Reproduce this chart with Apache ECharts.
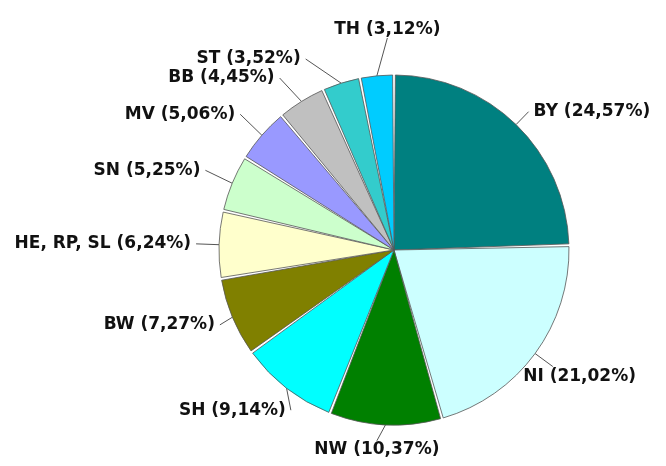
<!DOCTYPE html>
<html>
<head>
<meta charset="utf-8">
<script src="https://cdn.jsdelivr.net/npm/echarts@6/dist/echarts.min.js"></script>
<style>
  html, body { margin: 0; padding: 0; background: #ffffff; }
  #chart { width: 666px; height: 466px; }
</style>
</head>
<body>
<div id="chart"></div>
<script>
// Anteile in Prozent, im Uhrzeigersinn ab 12 Uhr
const names = ['BY', 'NI', 'NW', 'SH', 'BW', 'HE, RP, SL', 'SN', 'MV', 'BB', 'ST', 'TH'];
const shares = [24.57, 21.02, 10.37, 9.14, 7.27, 6.24, 5.25, 5.06, 4.45, 3.52, 3.12];
const colors = ['#008080', '#ccffff', '#008000', '#00ffff', '#808000', '#ffffcc',
  '#ccffcc', '#9999ff', '#c0c0c0', '#33cccc', '#00ccff'];
// Länge der Hinweislinien je Stück
const lineLen = [18, 22, 14, 28, 20, 28, 34, 32, 30, 42, 36];

const W = 666;
const CX = 394, CY = 250, R = 175;

const chart = echarts.init(document.getElementById('chart'), null, { renderer: 'canvas' });

const data = names.map(function (n, i) {
  return {
    name: n,
    value: shares[i],
    itemStyle: { color: colors[i] },
    labelLine: { length: lineLen[i] }
  };
});

chart.setOption({
  backgroundColor: '#ffffff',
  animation: false,
  series: [{
    type: 'pie',
    center: [CX, CY],
    radius: [0, R],
    startAngle: 90,
    clockwise: true,
    padAngle: 0.9,
    avoidLabelOverlap: true,
    itemStyle: {
      borderColor: '#555555',
      borderWidth: 0.8
    },
    label: {
      show: true,
      color: '#111111',
      fontFamily: 'DejaVu Sans',
      fontWeight: 'bold',
      fontSize: 17,
      overflow: 'none',
      formatter: function (p) {
        return p.name + ' (' + p.value.toFixed(2).replace('.', ',') + '%)';
      }
    },
    labelLine: {
      show: true,
      length: 22,
      length2: 0,
      lineStyle: { color: '#555555', width: 1 }
    },
    labelLayout: function (p) {
      const pts = p.labelLinePoints;
      if (pts && pts.length) {
        const end = pts[pts.length - 1];
        // Stücke ganz oben / unten: Text mittig über bzw. unter die Linie
        if (Math.abs(end[0] - CX) < R * 0.15) {
          const below = end[1] > CY;
          return {
            x: end[0] + (below ? -8 : 14),
            y: end[1] + (below ? 2 : -2),
            align: 'center',
            verticalAlign: below ? 'top' : 'bottom'
          };
        }
      }
      // Beschriftung, die rechts aus dem Bild ragt, nach links unten schieben
      const over = p.labelRect.x + p.labelRect.width - (W - 6);
      if (over > 0) {
        return { dx: -(over + 24), dy: p.labelRect.height * 0.6 };
      }
    },
    data: data
  }]
});
</script>
</body>
</html>
